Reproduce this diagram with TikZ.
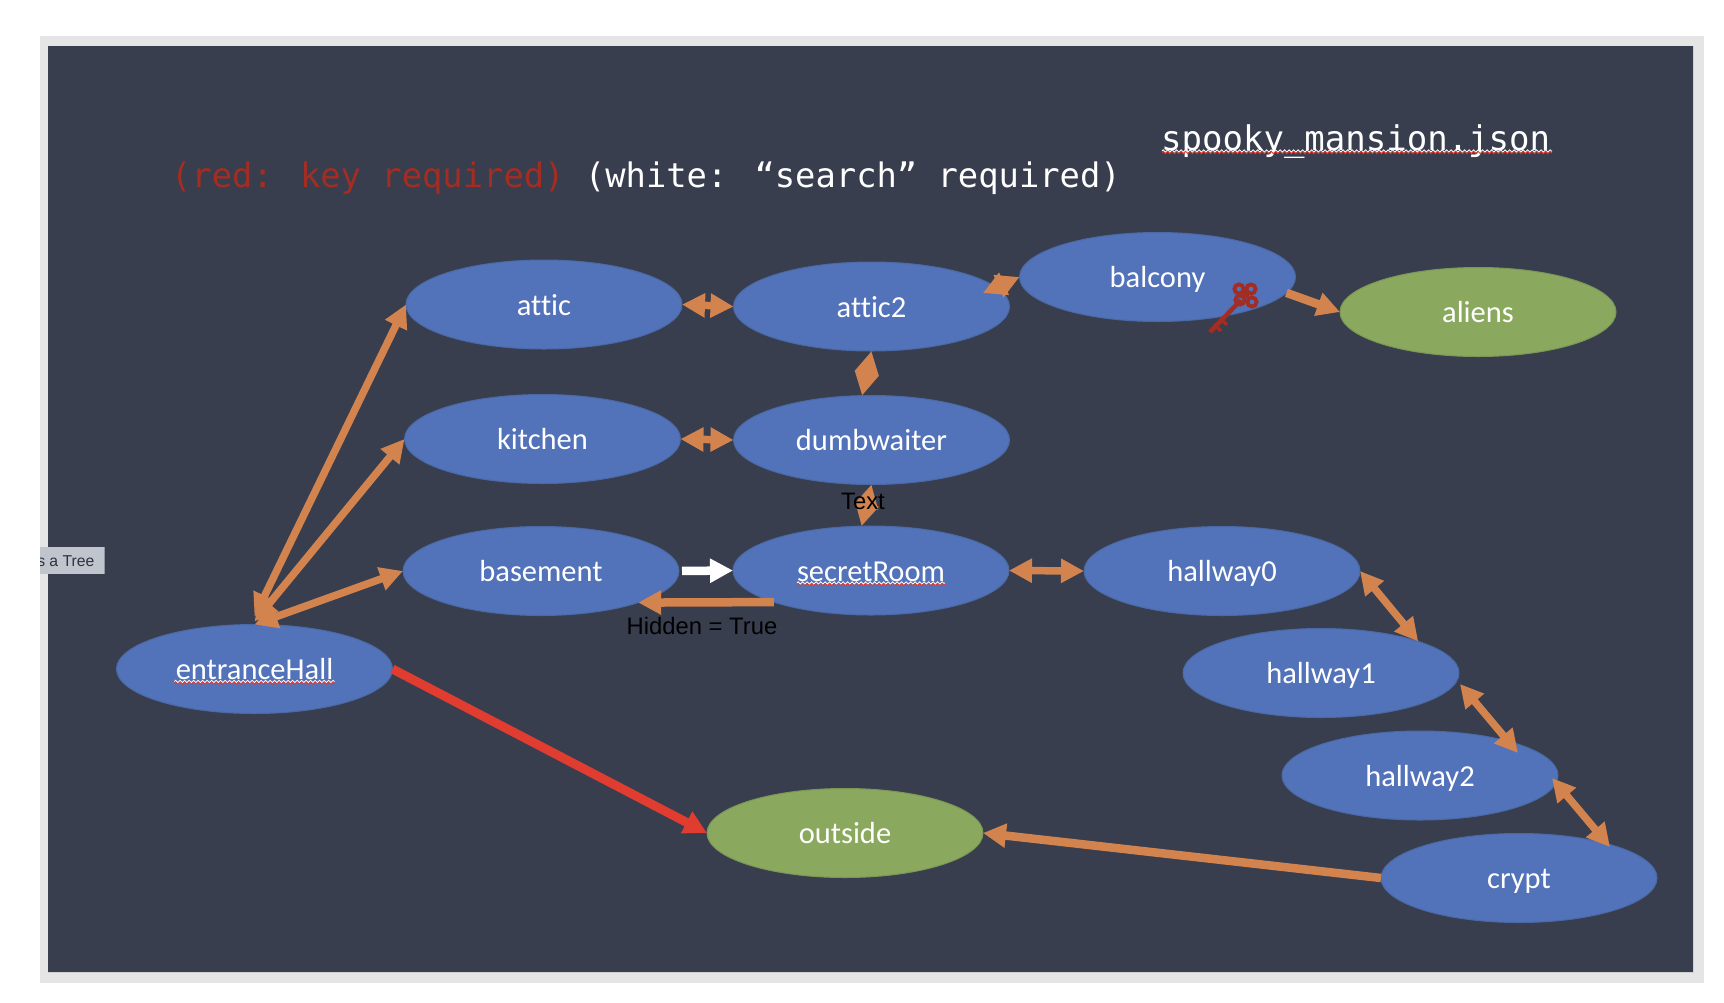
\documentclass[tikz,border=0pt]{standalone}
\usepackage{fontspec}
\setmainfont{Carlito}[Ligatures=NoCommon]
\newfontfamily\monofont{DejaVu Sans Mono}
\newfontfamily\labelfont{Liberation Sans}
\usetikzlibrary{shapes.geometric,arrows.meta,decorations.pathmorphing}
\definecolor{slidebg}{HTML}{383E4E}
\definecolor{roomblue}{HTML}{5272B9}
\definecolor{roomedge}{HTML}{4A6AA6}
\definecolor{exitgreen}{HTML}{8AA85E}
\definecolor{linkorange}{HTML}{D3844E}
\definecolor{lockred}{HTML}{E03C30}
\definecolor{keyred}{HTML}{A32D22}
\definecolor{tipgray}{HTML}{C0C4CC}
\tikzset{
  room/.style={ellipse,draw=roomedge,line width=1pt,fill=roomblue,text=white,inner sep=0pt,outer sep=0pt,
    minimum width=276pt,minimum height=89pt,text height=27pt,text depth=6pt,font=\fontsize{30.5}{36}\selectfont},
  exitroom/.style={room,fill=exitgreen,draw=exitgreen!90!black},
  twoway/.style={line width=7.5pt,draw=linkorange,{Triangle[length=23pt,width=23pt]}-{Triangle[length=23pt,width=23pt]}},
  oneway/.style={line width=8.5pt,draw=linkorange,-{Triangle[length=23pt,width=23pt]}},
  squiggle/.style={decorate,decoration={zigzag,segment length=4.5pt,amplitude=1.1pt},line width=1pt},
  caption/.style={font=\monofont\fontsize{34}{40}\selectfont,text=white,inner sep=0pt,anchor=base west}
}
\begin{document}
\begin{tikzpicture}[x=1pt,y=-1pt]
\useasboundingbox (0,0) rectangle (1724,1002);
\fill[white] (0,0) rectangle (1724,1002);
\fill[black!10] (40,36) rectangle (1704,983);
\fill[slidebg] (48,46) rectangle (1693,972);
\draw[black!18,line width=1pt] (1693,46) -- (1693,972) -- (48,972);

% tooltip at the edge
\begin{scope}
  \clip (40,547) rectangle (104.5,574);
  \fill[tipgray] (40,547) rectangle (104.5,574);
  \node[font=\labelfont\fontsize{15.7}{18}\selectfont,text=slidebg!80!black,inner sep=0pt,anchor=base east] (tooltip) at (94.5,566) {s a Tree};
\end{scope}

% titles
\node[caption] (filename) at (1161,150) {spooky\_mansion.json};
\node[caption,font=\monofont\fontsize{33.8}{40}\selectfont] (legend) at (171,187) {\textcolor{keyred}{(red: key required)} (white: “search” required)};

% rooms
\node[room] (attic) at (544,304.5) {attic};
\node[room] (attic2) at (871.5,306.5) {attic2};
\node[room] (balcony) at (1157.5,277) {balcony};
\node[exitroom] (aliens) at (1478,312) {aliens};
\node[room] (kitchen) at (542.5,439) {kitchen};
\node[room] (dumbwaiter) at (871.5,440) {dumbwaiter};
\node[room] (basement) at (541,571) {basement};
\node[room] (secretRoom) at (871,570.5) {secretRoom};
\node[room] (hallway0) at (1222,571) {hallway0};
\node[room] (hallway1) at (1321,673) {hallway1};
\node[room] (hallway2) at (1420,775.5) {hallway2};
\node[room] (crypt) at (1519,878) {crypt};
\node[room] (entranceHall) at (254.5,669) {entranceHall};
\node[exitroom] (outside) at (845,833) {outside};

% spell check marks
\draw[squiggle,white] (1162,151) -- (1552,151);
\draw[squiggle,lockred] (1162,152.5) -- (1552,152.5);
\draw[squiggle,white] ([xshift=-80pt,yshift=-12.5pt]entranceHall.center) -- ([xshift=80pt,yshift=-12.5pt]entranceHall.center);
\draw[squiggle,lockred] ([xshift=-80pt,yshift=-14pt]entranceHall.center) -- ([xshift=80pt,yshift=-14pt]entranceHall.center);
\draw[squiggle,white] ([xshift=-74pt,yshift=-12.5pt]secretRoom.center) -- ([xshift=74pt,yshift=-12.5pt]secretRoom.center);
\draw[squiggle,lockred] ([xshift=-74pt,yshift=-14pt]secretRoom.center) -- ([xshift=74pt,yshift=-14pt]secretRoom.center);

% links
\draw[twoway] ([yshift=8pt]entranceHall.north) -- (attic.west);
\draw[twoway] ([yshift=3pt]entranceHall.north) -- (kitchen.west);
\draw[twoway] (entranceHall.north) -- (basement.west);
\draw[twoway] (attic.east) -- (attic2.west);
\draw[twoway] (kitchen.east) -- (dumbwaiter.west);
\draw[twoway] (attic2.south) -- (dumbwaiter.102);
\draw[twoway] (dumbwaiter.south) -- (secretRoom.102);
\coordinate (attic2end) at (983,293);
\draw[twoway] (attic2end) -- (balcony.west);
\draw[oneway] (balcony.-7) -- (aliens.west);
\draw[oneway,draw=white,shorten <=3pt] (basement.east) -- (secretRoom.west);
\draw[oneway] (secretRoom.198.5) -- (basement.-18);
\draw[twoway] (secretRoom.east) -- (hallway0.west);
\draw[twoway] (hallway0.east) -- (hallway1.18);
\coordinate (hallway1end) at (1460,684);
\coordinate (hallway2end) at (1518,753);
\draw[twoway] (hallway1end) -- (hallway2end);
\coordinate (hallway2low) at (1552,778);
\coordinate (cryptend) at (1610,847);
\draw[twoway] (hallway2low) -- (cryptend);
\draw[oneway] (crypt.west) -- (outside.east);
\draw[oneway,draw=lockred,line width=9pt] (entranceHall.east) -- (outside.west);

% key
\draw[keyred,line width=4.5pt] (1210,332) -- (1241,300);
\draw[keyred,line width=3.5pt] (1214,324) -- (1221,331) (1220,318) -- (1227,325);
\foreach \kx/\ky in {1239/289,1251/289,1240/300,1252/302}
  \draw[keyred,line width=3.8pt] (\kx,\ky) circle (4.6pt);
\fill[keyred] (1245.5,294.5) circle (4pt);

% black labels
\node[font=\labelfont\fontsize{23.8}{28}\selectfont,text=black,inner sep=0pt] (textlabel) at (863,501) {Text};
\node[font=\labelfont\fontsize{23.8}{28}\selectfont,text=black,inner sep=0pt] (hiddenlabel) at (702,626) {Hidden = True};
\end{tikzpicture}
\end{document}
